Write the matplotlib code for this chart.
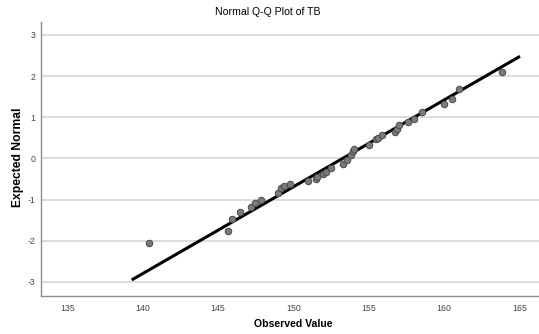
# Normal Q-Q plot of TB (SPSS style)
import matplotlib
matplotlib.use("Agg")
import matplotlib.pyplot as plt

plt.rcParams['font.family'] = ['Liberation Sans', 'DejaVu Sans']

# observed values and their expected normal scores
observed = [140.44, 145.64, 145.95, 146.46, 147.17, 147.48, 147.87, 148.96,
            149.18, 149.38, 149.80, 150.99, 151.48, 151.55, 151.99, 152.17,
            152.48, 153.27, 153.54, 153.82, 153.94, 154.02, 155.02, 155.48,
            155.60, 155.90, 156.72, 156.86, 156.99, 157.63, 158.03, 158.52,
            160.02, 160.55, 161.02, 163.87]
expected = [-2.06, -1.76, -1.48, -1.29, -1.19, -1.09, -1.00, -0.85,
            -0.72, -0.66, -0.61, -0.55, -0.49, -0.45, -0.38, -0.32,
            -0.23, -0.13, -0.03, 0.08, 0.19, 0.24, 0.32, 0.46,
            0.50, 0.58, 0.64, 0.72, 0.82, 0.88, 0.96, 1.12,
            1.33, 1.45, 1.69, 2.09]

# reference line end points (observed, expected)
line_x = [139.27, 165.04]
line_y = [-2.95, 2.48]

xticks = [135, 140, 145, 150, 155, 160, 165]
yticks = [-3, -2, -1, 0, 1, 2, 3]

fig = plt.figure(figsize=(5.39, 3.34), dpi=100)
ax = fig.add_axes([0.0755, 0.1138, 0.9245, 0.8212])

for y in yticks:
    ax.axhline(y, color='#d9d9d9', lw=1.3, zorder=1)

ax.plot(line_x, line_y, color='black', lw=2.2, zorder=2, solid_capstyle='butt')
ax.scatter(observed, expected, s=22, color='#7a7a7a', edgecolors='#4a4a4a',
           linewidths=0.7, zorder=3)

ax.set_xlim(133.23, 166.3)
ax.set_ylim(-3.34, 3.32)
ax.set_xticks(xticks)
ax.set_yticks(yticks)
ax.set_xticklabels([str(t) for t in xticks])
ax.set_yticklabels([str(t) for t in yticks])
ax.tick_params(length=0, labelsize=6.3, labelcolor='#444444')
ax.tick_params(axis='x', pad=6)
ax.tick_params(axis='y', pad=4)

for s in ['top', 'right']:
    ax.spines[s].set_visible(False)
for s in ['left', 'bottom']:
    ax.spines[s].set_color('#8c8c8c')
    ax.spines[s].set_linewidth(1.0)

fig.text(0.497, 0.963, 'Normal Q-Q Plot of TB', ha='center', va='center',
         fontsize=7.6, color='black')
fig.text(0.544, 0.03, 'Observed Value', ha='center', va='center',
         fontsize=7.6, fontweight='bold', color='black')
fig.text(0.034, 0.53, 'Expected Normal', ha='center', va='center',
         rotation=90, fontsize=8.7, fontweight='bold', color='black')

fig.savefig('out.png', dpi=100)
